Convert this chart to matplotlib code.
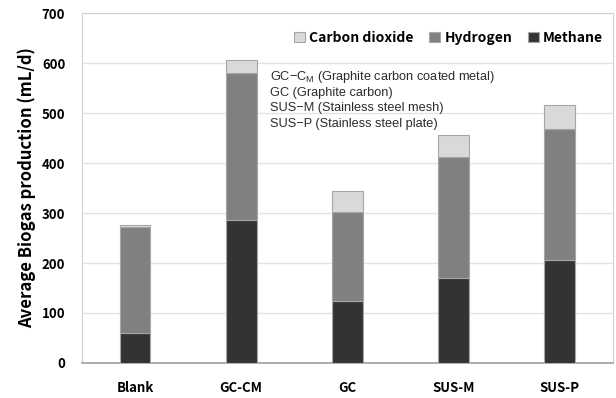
import matplotlib
matplotlib.use('Agg')
import matplotlib.pyplot as plt
import numpy as np

plt.rcParams['font.family'] = ['Noto Sans CJK KR', 'DejaVu Sans']

categories = ['Blank', 'GC-CM', 'GC', 'SUS-M', 'SUS-P']
methane = [60, 287, 124, 170, 207]
hydrogen = [213, 293, 179, 243, 261]
carbon_dioxide = [3, 26, 41, 44, 49]

notes = ['GC\u2212C$_\\mathregular{M}$ (Graphite carbon coated metal)',
         'GC (Graphite carbon)',
         'SUS\u2212M (Stainless steel mesh)',
         'SUS\u2212P (Stainless steel plate)']

fig = plt.figure(figsize=(6.16, 3.98), dpi=100)
ax = fig.add_axes([0.133, 0.088, 0.862, 0.879])

x = np.arange(len(categories))
w = 0.29
edge = '#a6a6a6'
b1 = ax.bar(x, methane, w, color='#333333', edgecolor=edge, linewidth=0.8, label='Methane', zorder=3)
b2 = ax.bar(x, hydrogen, w, bottom=methane, color='#808080', edgecolor=edge, linewidth=0.8,
            label='Hydrogen', zorder=3)
bottom2 = np.array(methane) + np.array(hydrogen)
b3 = ax.bar(x, carbon_dioxide, w, bottom=bottom2, color='#d9d9d9', edgecolor=edge, linewidth=0.8,
            label='Carbon dioxide', zorder=3)

ax.set_xlim(-0.5, 4.5)
ax.set_ylim(0, 700)
ax.set_yticks(range(0, 701, 100))
ax.set_xticks(x)
ax.set_xticklabels(categories, fontweight='bold', fontsize=9.5)
for t in ax.get_yticklabels():
    t.set_fontweight('bold')
    t.set_fontsize(9.5)
ax.tick_params(axis='both', length=0)
ax.tick_params(axis='x', pad=13)
ax.tick_params(axis='y', pad=12)

ax.grid(axis='y', color='#e3e3e3', linewidth=1, zorder=0)
for s in ['top', 'right', 'left']:
    ax.spines[s].set_color('#d0d0d0')
ax.spines['bottom'].set_color('#a0a0a0')
ax.spines['bottom'].set_linewidth(1.2)

ax.set_ylabel('Average Biogas production (mL/d)', fontweight='bold', fontsize=12, labelpad=4)

ax.legend(handles=[b3, b2, b1], loc='upper right', ncol=3, frameon=False,
          prop={'weight': 'bold', 'size': 10}, handlelength=0.8, handleheight=0.8,
          handletextpad=0.3, columnspacing=1.1, bbox_to_anchor=(1.005, 0.985))

for i, note in enumerate(notes):
    ax.text(1.27, 572 - i * 31, note, fontsize=9.2, color='#2b2b2b', va='center',
            family=['Liberation Sans', 'DejaVu Sans'])

fig.savefig('out.png', dpi=100)
